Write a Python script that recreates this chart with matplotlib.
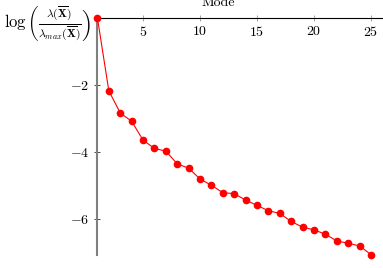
import numpy as np
import matplotlib
matplotlib.use("Agg")
import matplotlib.pyplot as plt

# data
modes = list(range(1, 26))
log_ratio = [0.0, -2.18, -2.84, -3.09, -3.65, -3.90, -3.98, -4.36, -4.49, -4.81,
             -5.00, -5.22, -5.25, -5.44, -5.60, -5.76, -5.84, -6.08, -6.25, -6.33,
             -6.46, -6.66, -6.73, -6.81, -7.07]
xticks = [5, 10, 15, 20, 25]
yticks = [-2, -4, -6]

plt.rcParams["font.family"] = "serif"
plt.rcParams["font.serif"] = ["cmr10"]
plt.rcParams["mathtext.fontset"] = "cm"
plt.rcParams["font.size"] = 10

W, H = 383, 268
fig = plt.figure(figsize=(W / 100, H / 100), dpi=100)
left, top, bottom = 97.4, 17.7, 255.0
ax = fig.add_axes([left / W, 1 - bottom / H, 1 - left / W, (bottom - top) / H])

ax.plot(modes, log_ratio, color="red", lw=0.8, marker="o", ms=4.5,
        clip_on=False, zorder=3)

ax.set_xlim(1, 26.05)
ax.set_ylim(-7.08, 0)

# axis lines: x axis along y=0 at the top, y axis at x=1
ax.spines["top"].set_visible(False)
ax.spines["right"].set_visible(False)
ax.spines["bottom"].set_position(("data", 0))
ax.spines["bottom"].set_color("black")
ax.spines["bottom"].set_linewidth(0.8)
ax.spines["left"].set_color("gray")
ax.spines["left"].set_linewidth(1.5)

ax.set_xticks(xticks)
ax.set_xticklabels([f"${v}$" for v in xticks])
ax.set_yticks(yticks)
ax.set_yticklabels([f"${v}$" for v in yticks])
ax.tick_params(axis="x", direction="inout", length=4, width=0.5, color="gray", pad=3)
ax.tick_params(axis="y", direction="inout", length=4, width=0.5, color="black", pad=4)

fig.text(218 / W, 1 - 6 / H, "Mode", ha="center", va="baseline")
fig.text(91 / W, 1 - 23 / H,
         r"$\log\left(\frac{\lambda(\overline{\mathbf{X}})}{\lambda_{max}(\overline{\mathbf{X}})}\right)$",
         ha="right", va="center", fontsize=12)

fig.savefig("out.png", dpi=100)
